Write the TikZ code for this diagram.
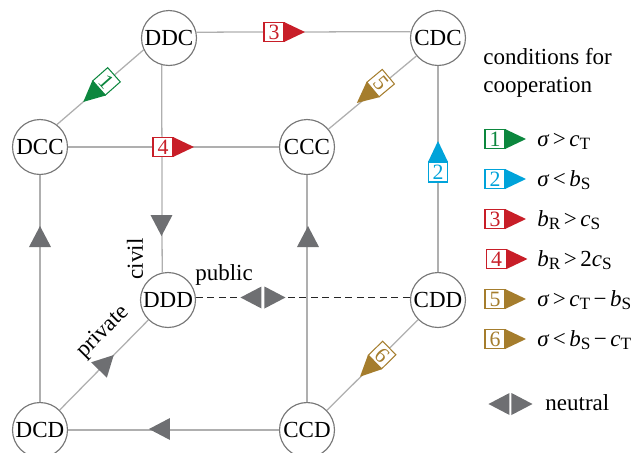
\documentclass[tikz,border=0pt]{standalone}
\usepackage{fontspec}
\setmainfont{Liberation Serif}
\usetikzlibrary{calc}
\definecolor{cgreen}{RGB}{12,135,62}
\definecolor{cblue}{RGB}{0,163,218}
\definecolor{cred}{RGB}{200,30,40}
\definecolor{cgold}{RGB}{165,125,45}
\definecolor{ngray}{RGB}{110,111,114}
\definecolor{egray}{RGB}{175,175,175}
\definecolor{cgrayc}{RGB}{120,120,120}
\newcommand\numfont{\fontsize{9.5}{10}\selectfont}
\newcommand\sbx[1]{\raisebox{-0.35ex}{\fontsize{7.5}{8}\selectfont #1}}
\newcommand\rel[1]{\hspace{0.15em}#1\hspace{0.15em}}
\newcommand\sig{\textit{σ}}
% marker: x, y, angle, text rotation, colour, number
\newcommand\mk[6]{%
  \begin{scope}[shift={(#1,#2)},rotate=#3]
    \filldraw[fill=white,draw=#5,line width=0.45pt] (-20,-9.5) rectangle (0,9.5);
    \fill[#5] (0,-10) -- (21,0) -- (0,10) -- cycle;
    \node[text=#5,rotate=#4,font=\numfont,inner sep=0pt] at (-10,0) {#6};
  \end{scope}}
% gray triangle: base centre x, y, angle
\newcommand\gt[3]{\fill[ngray,shift={(#1,#2)},rotate=#3] (0,-11) -- (21,0) -- (0,11) -- cycle;}
\tikzset{
  st/.style={circle,draw=cgrayc,line width=0.5pt,minimum size=23.9pt,inner sep=0pt,fill=white},
  edge/.style={draw=egray,line width=0.55pt},
  dashedge/.style={draw=black!85,line width=0.5pt,dash pattern=on 3pt off 2pt},
  lbl/.style={inner sep=0pt}
}
\begin{document}
\begin{tikzpicture}[x=0.4348pt,y=-0.4348pt]
\useasboundingbox (0,0) rectangle (641,452);
% nodes
\node[st] (DDC) at (169,38) {DDC};
\node[st] (CDC) at (438,38) {CDC};
\node[st] (DCC) at (40,147) {DCC};
\node[st] (CCC) at (307,147) {CCC};
\node[st] (DDD) at (168,300) {DDD};
\node[st] (CDD) at (438,300) {CDD};
\node[st] (DCD) at (40,430) {DCD};
\node[st] (CCD) at (307,430) {CCD};
% edges
\draw[edge] (DDC.12.6) -- (CDC.167.4);
\draw[edge] (DDC.205) -- (DCC.53);
\draw[edge] (DDC.255.3) -- (DDD.102.6);
\draw[edge] (CDC) -- (CCC);
\draw[edge] (CDC) -- (CDD);
\draw[edge] (DCC) -- (CCC);
\draw[edge] (DCC) -- (DCD);
\draw[edge] (CCC) -- (CCD);
\draw[edge] (DCD) -- (CCD);
\draw[edge] (DCD) -- (DDD);
\draw[edge] (CDD) -- (CCD);
\draw[dashedge] (DDD.6) -- (CDD.174);
% coloured markers
\mk{99}{88}{221.5}{-48.5}{cgreen}{1}
\mk{438}{162}{90}{0}{cblue}{2}
\mk{284}{32}{0}{0}{cred}{3}
\mk{173}{147}{0}{0}{cred}{4}
\mk{373}{89.5}{219.8}{-50.2}{cgold}{5}
\mk{375}{362}{224.4}{-45.6}{cgold}{6}
% gray markers
\gt{161.5}{215}{-90}
\gt{40}{247}{90}
\gt{308}{247}{90}
\gt{170}{429}{180}
\gt{99}{370}{45.4}
\gt{261.5}{297.5}{180}
\gt{264.5}{297.5}{0}
% axis labels
\node[lbl,anchor=base,rotate=90] (civil) at (143,259) {civil};
\node[lbl,anchor=base] (public) at (224,280) {public};
\node[lbl,rotate=45] (private) at (103,332) {private};
% legend
\node[lbl,anchor=base west] (cond1) at (483,64) {conditions for};
\node[lbl,anchor=base west] (cond2) at (483,92) {cooperation};
\mk{505}{139}{0}{0}{cgreen}{1}
\mk{505}{179}{0}{0}{cblue}{2}
\mk{505}{219}{0}{0}{cred}{3}
\mk{506.5}{259}{0}{0}{cred}{4}
\mk{505}{299}{0}{0}{cgold}{5}
\mk{505}{339}{0}{0}{cgold}{6}
\node[lbl,anchor=base west] (l1) at (537,146) {\sig\rel{>}\textit{c}\sbx{T}};
\node[lbl,anchor=base west] (l2) at (537,186) {\sig\rel{<}\textit{b}\sbx{S}};
\node[lbl,anchor=base west] (l3) at (537,226) {\textit{b}\sbx{R}\rel{>}\textit{c}\sbx{S}};
\node[lbl,anchor=base west] (l4) at (537,266) {\textit{b}\sbx{R}\rel{>}2\textit{c}\sbx{S}};
\node[lbl,anchor=base west] (l5) at (537,306) {\sig\rel{>}\textit{c}\sbx{T}\rel{−}\textit{b}\sbx{S}};
\node[lbl,anchor=base west] (l6) at (537,346) {\sig\rel{<}\textit{b}\sbx{S}\rel{−}\textit{c}\sbx{T}};
\gt{509.5}{404}{180}
\gt{511.5}{404}{0}
\node[lbl,anchor=base west] (neutral) at (545,410) {neutral};
\end{tikzpicture}
\end{document}
